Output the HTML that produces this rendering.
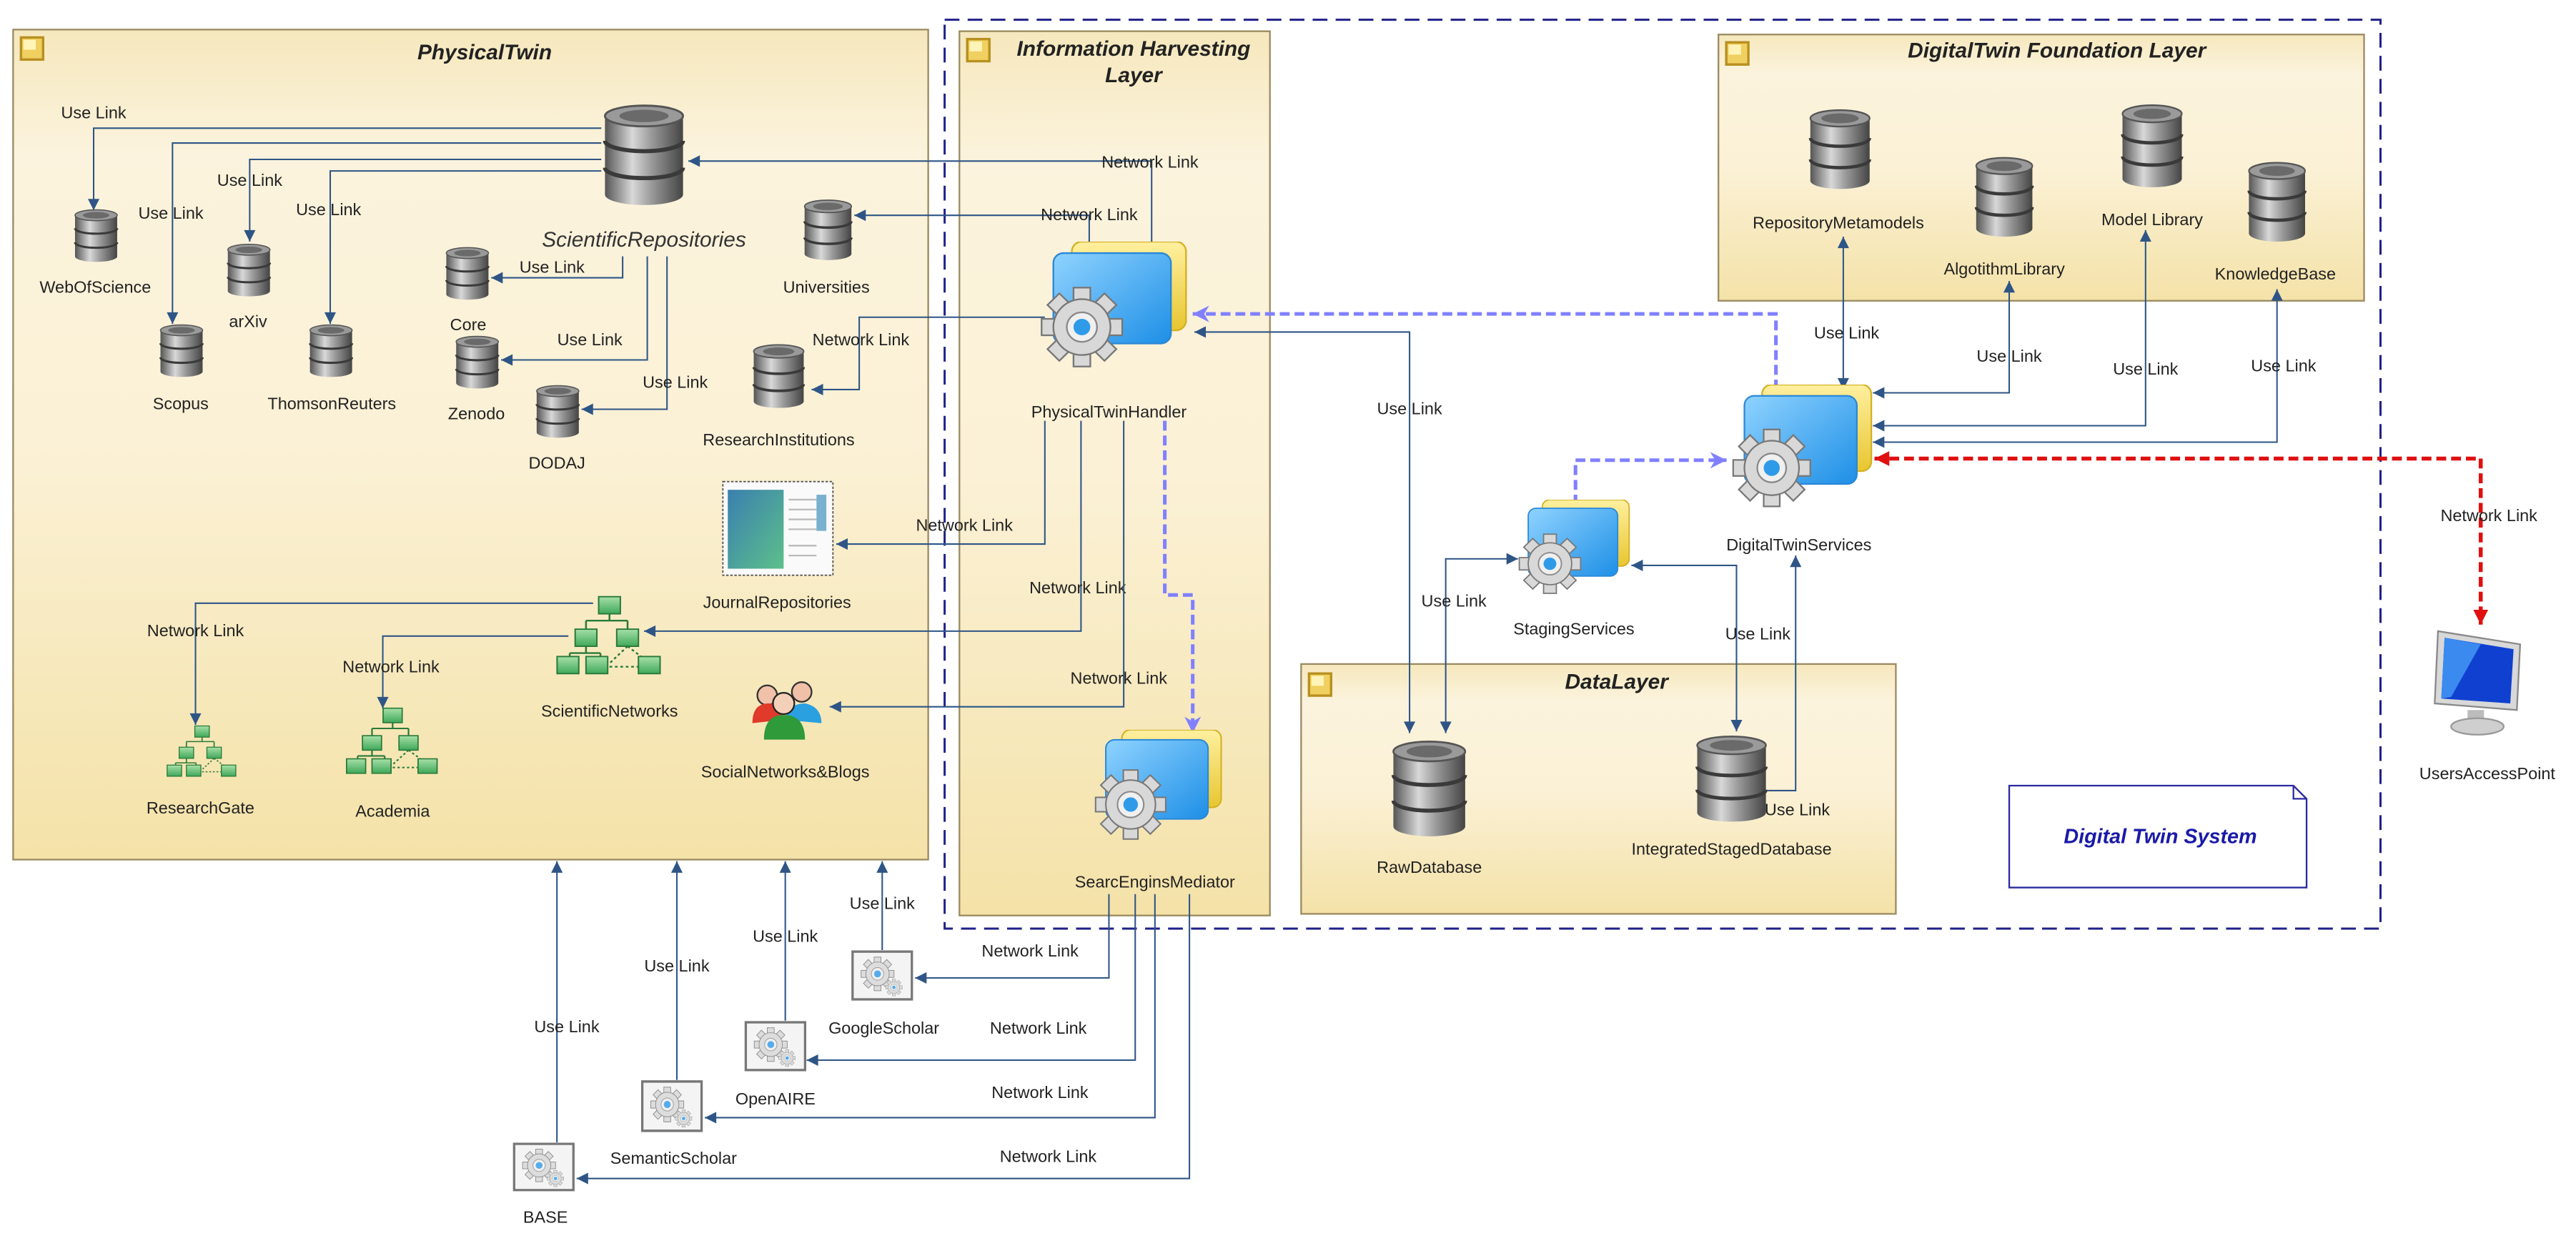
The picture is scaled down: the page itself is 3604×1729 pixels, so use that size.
<!DOCTYPE html>
<html><head><meta charset="utf-8"><style>
html,body{margin:0;padding:0;background:#fff;}
svg{display:block;}
text{font-family:"Liberation Sans",sans-serif;fill:#222;}
.l{font-size:10.2px;text-anchor:middle;}
.t{font-size:13px;font-weight:bold;font-style:italic;text-anchor:middle;}
.c{stroke:#2e5586;stroke-width:0.9;fill:none;}
</style></head><body>
<svg width="3604" height="1729" viewBox="0 0 1568 752" preserveAspectRatio="none" xmlns="http://www.w3.org/2000/svg">
<defs>
<linearGradient id="box" x1="0" y1="0" x2="0" y2="1">
<stop offset="0" stop-color="#f6e8bd"/><stop offset="0.15" stop-color="#fbf3dd"/><stop offset="0.5" stop-color="#fbf1d6"/><stop offset="1" stop-color="#f4e2a8"/></linearGradient>
<linearGradient id="dbg" x1="0" y1="0" x2="1" y2="0">
<stop offset="0" stop-color="#555"/><stop offset="0.35" stop-color="#d8d8d8"/><stop offset="0.6" stop-color="#999"/><stop offset="1" stop-color="#444"/></linearGradient>
<linearGradient id="blue" x1="0" y1="0" x2="1" y2="1">
<stop offset="0" stop-color="#8fd3ff"/><stop offset="1" stop-color="#1e8fe6"/></linearGradient>
<linearGradient id="yel" x1="0" y1="0" x2="0" y2="1">
<stop offset="0" stop-color="#fff0a0"/><stop offset="1" stop-color="#e8c630"/></linearGradient>
<linearGradient id="grn" x1="0" y1="0" x2="0" y2="1">
<stop offset="0" stop-color="#a8e0a8"/><stop offset="1" stop-color="#3fa85a"/></linearGradient>
<linearGradient id="jr" x1="0" y1="0" x2="1" y2="1">
<stop offset="0" stop-color="#3a7fb0"/><stop offset="1" stop-color="#5cc08a"/></linearGradient>
<marker id="a" viewBox="0 0 10 10" refX="10" refY="5" markerWidth="8" markerHeight="7" markerUnits="userSpaceOnUse" orient="auto-start-reverse"><path d="M0,0 L10,5 L0,10 z" fill="#2e5586"/></marker>
<marker id="ap" viewBox="0 0 10 10" refX="10" refY="5" markerWidth="11" markerHeight="10" markerUnits="userSpaceOnUse" orient="auto"><path d="M0,0 L10,5 L0,10 L3,5 z" fill="#8080ff"/></marker>
<marker id="ar" viewBox="0 0 10 10" refX="10" refY="5" markerWidth="10" markerHeight="9" markerUnits="userSpaceOnUse" orient="auto-start-reverse"><path d="M0,0 L10,5 L0,10 z" fill="#e01010"/></marker>
<symbol id="db" viewBox="0 0 40 50" preserveAspectRatio="none">
<rect x="1" y="6" width="38" height="38" fill="url(#dbg)"/>
<ellipse cx="20" cy="44" rx="19" ry="5" fill="url(#dbg)"/>
<path d="M1,18 A19,5 0 0 0 39,18 M1,31 A19,5 0 0 0 39,31" stroke="#3a3a3a" stroke-width="2" fill="none"/>
<ellipse cx="20" cy="6" rx="19" ry="5" fill="#9a9a9a" stroke="#555" stroke-width="1"/>
<ellipse cx="20" cy="6" rx="12" ry="3" fill="#6a6a6a"/>
</symbol>
<symbol id="gear" viewBox="-25 -25 50 50">
<g fill="#d8d8d8" stroke="#777" stroke-width="1">
<rect x="-5" y="-24" width="10" height="10" transform="rotate(0)"/>
<rect x="-5" y="-24" width="10" height="10" transform="rotate(45)"/>
<rect x="-5" y="-24" width="10" height="10" transform="rotate(90)"/>
<rect x="-5" y="-24" width="10" height="10" transform="rotate(135)"/>
<rect x="-5" y="-24" width="10" height="10" transform="rotate(180)"/>
<rect x="-5" y="-24" width="10" height="10" transform="rotate(225)"/>
<rect x="-5" y="-24" width="10" height="10" transform="rotate(270)"/>
<rect x="-5" y="-24" width="10" height="10" transform="rotate(315)"/>
<circle r="17"/></g>
<circle r="9" fill="#f0f0f0" stroke="#888"/><circle r="5" fill="#2f9be8"/>
</symbol>
<symbol id="svc" viewBox="0 0 90 80" preserveAspectRatio="none">
<rect x="19" y="0" width="68" height="54" rx="6" fill="url(#yel)" stroke="#d4b020"/>
<rect x="8" y="7" width="70" height="55" rx="6" fill="url(#blue)" stroke="#2a88d8"/>
<use href="#gear" x="0" y="27" width="50" height="50"/>
</symbol>
<symbol id="web" viewBox="0 0 40 32" preserveAspectRatio="none">
<rect x="1" y="1" width="38" height="30" fill="#f4f4f4" stroke="#777" stroke-width="1.5"/>
<g opacity="0.8"><use href="#gear" x="6" y="4" width="22" height="22"/><use href="#gear" x="22" y="18" width="11" height="11"/></g>
</symbol>
<symbol id="tree" viewBox="0 0 60 50" preserveAspectRatio="none">
<g stroke="#2a7a3a" stroke-width="1" fill="none"><path d="M30,10 V15 M17,15 H40 M17,15 V20 M40,15 V20 M17,30 V34 M8,34 H25 M8,34 V36 M25,34 V36"/><path d="M40,30 L30,40 M40,30 L50,38 M30,42 H47" stroke-dasharray="1.5,1.5"/></g>
<g fill="url(#grn)" stroke="#2a7a3a" stroke-width="0.8">
<rect x="24" y="1" width="12" height="10"/><rect x="11" y="20" width="12" height="10"/><rect x="34" y="20" width="12" height="10"/>
<rect x="1" y="36" width="12" height="10"/><rect x="17" y="36" width="12" height="10"/><rect x="46" y="36" width="12" height="10"/></g>
</symbol>
<symbol id="sq" viewBox="0 0 10 10"><rect x="0.5" y="0.5" width="9" height="9" fill="#f0d060" stroke="#b89020"/><rect x="1.5" y="1.5" width="5" height="4" fill="#fff4b8"/></symbol>
</defs>

<rect x="8" y="18" width="557" height="505" fill="url(#box)" stroke="#9a8a60" stroke-width="1"/>
<use href="#sq" x="12" y="22" width="15" height="15"/>
<text class="t" x="295" y="36">PhysicalTwin</text>

<rect x="584" y="19" width="189" height="538" fill="url(#box)" stroke="#9a8a60"/>
<use href="#sq" x="588" y="23" width="15" height="15"/>
<text class="t" x="690" y="34">Information Harvesting</text>
<text class="t" x="690" y="50">Layer</text>

<rect x="1046" y="21" width="393" height="162" fill="url(#box)" stroke="#9a8a60"/>
<use href="#sq" x="1050" y="25" width="15" height="15"/>
<text class="t" x="1252" y="35">DigitalTwin Foundation Layer</text>

<rect x="792" y="404" width="362" height="152" fill="url(#box)" stroke="#9a8a60"/>
<use href="#sq" x="796" y="409" width="15" height="15"/>
<text class="t" x="984" y="419">DataLayer</text>

<rect x="575" y="12" width="874" height="553" fill="none" stroke="#20208a" stroke-width="1.3" stroke-dasharray="9,5"/>

<path d="M1223,478 H1396 L1404,486 V540 H1223 Z M1396,478 V486 H1404" fill="#fff" stroke="#2a2aa0" stroke-width="1"/>
<text x="1315" y="513" style="font-size:12.5px;font-weight:bold;font-style:italic;fill:#1a1aa8;text-anchor:middle">Digital Twin System</text>

<path class="c" d="M366,78 H57 V128" marker-end="url(#a)"/>
<path class="c" d="M366,87 H105 V197" marker-end="url(#a)"/>
<path class="c" d="M366,97 H152 V147" marker-end="url(#a)"/>
<path class="c" d="M366,104 H201 V197" marker-end="url(#a)"/>
<text class="l" x="57" y="72">Use Link</text>
<text class="l" x="104" y="133">Use Link</text>
<text class="l" x="152" y="113">Use Link</text>
<text class="l" x="200" y="131">Use Link</text>
<path class="c" d="M379,156 V169 H299" marker-end="url(#a)"/>
<path class="c" d="M394,156 V219 H305" marker-end="url(#a)"/>
<path class="c" d="M406,156 V249 H354" marker-end="url(#a)"/>
<text class="l" x="336" y="166">Use Link</text>
<text class="l" x="359" y="210">Use Link</text>
<text class="l" x="411" y="236">Use Link</text>

<path class="c" d="M701,148 V98 H419" marker-end="url(#a)"/>
<text class="l" x="700" y="102">Network Link</text>
<path class="c" d="M663,148 V131 H520" marker-end="url(#a)"/>
<text class="l" x="663" y="134">Network Link</text>
<path class="c" d="M636,193 H523 V237 H494" marker-end="url(#a)"/>
<text class="l" x="524" y="210">Network Link</text>
<path class="c" d="M636,256 V331 H509" marker-end="url(#a)"/>
<text class="l" x="587" y="323">Network Link</text>
<path class="c" d="M658,256 V384 H392" marker-end="url(#a)"/>
<text class="l" x="656" y="361">Network Link</text>
<path class="c" d="M684,256 V430 H505" marker-end="url(#a)"/>
<text class="l" x="681" y="416">Network Link</text>
<path class="c" d="M361,367 H119 V441" marker-end="url(#a)"/>
<text class="l" x="119" y="387">Network Link</text>
<path class="c" d="M346,387 H233 V431" marker-end="url(#a)"/>
<text class="l" x="238" y="409">Network Link</text>

<use href="#db" x="367" y="63" width="50" height="63"/>
<text x="392" y="150" style="font-size:13px;font-style:italic;text-anchor:middle;fill:#333">ScientificRepositories</text>
<use href="#db" x="45" y="127" width="27" height="33"/><text class="l" x="58" y="178">WebOfScience</text>
<use href="#db" x="97" y="197" width="27" height="33"/><text class="l" x="110" y="249">Scopus</text>
<use href="#db" x="138" y="148" width="27" height="33"/><text class="l" x="151" y="199">arXiv</text>
<use href="#db" x="188" y="197" width="27" height="33"/><text class="l" x="202" y="249">ThomsonReuters</text>
<use href="#db" x="271" y="150" width="27" height="33"/><text class="l" x="285" y="201">Core</text>
<use href="#db" x="277" y="204" width="27" height="33"/><text class="l" x="290" y="255">Zenodo</text>
<use href="#db" x="326" y="234" width="27" height="33"/><text class="l" x="339" y="285">DODAJ</text>
<use href="#db" x="489" y="121" width="30" height="38"/><text class="l" x="503" y="178">Universities</text>
<use href="#db" x="458" y="209" width="32" height="40"/><text class="l" x="474" y="271">ResearchInstitutions</text>

<rect x="440" y="293" width="67" height="57" fill="#fafafa" stroke="#555" stroke-width="0.8" stroke-dasharray="1.5,1"/>
<rect x="443" y="298" width="34" height="48" fill="url(#jr)"/>
<g stroke="#bbb" stroke-width="1"><path d="M480,304 H497 M480,310 H497 M480,316 H497 M480,322 H497 M480,332 H497 M480,338 H497"/></g>
<rect x="497" y="301" width="6" height="22" fill="#7ab0d0"/>
<text class="l" x="473" y="370">JournalRepositories</text>

<use href="#tree" x="338" y="362" width="66" height="52"/><text class="l" x="371" y="436">ScientificNetworks</text>
<use href="#tree" x="101" y="441" width="44" height="34"/><text class="l" x="122" y="495">ResearchGate</text>
<use href="#tree" x="210" y="430" width="58" height="44"/><text class="l" x="239" y="497">Academia</text>

<g>
<circle cx="467" cy="423" r="6" fill="#f0c0a8" stroke="#333" stroke-width="1"/>
<path d="M458,440 Q458,428 468,428 Q476,428 476,438 Z" fill="#e03a2a"/>
<circle cx="488" cy="421" r="6" fill="#f0c0a8" stroke="#333"/>
<path d="M478,438 Q480,428 490,428 Q500,430 500,440 Z" fill="#2aa0e0"/>
<circle cx="477" cy="428" r="6.5" fill="#f5d0b8" stroke="#222"/>
<path d="M465,450 Q465,435 477,435 Q490,435 490,450 Z" fill="#2f9a3a"/>
</g>
<text class="l" x="478" y="473">SocialNetworks&amp;Blogs</text>

<path class="c" d="M858,446 V202 H727" marker-end="url(#a)" marker-start="url(#a)"/>
<text class="l" x="858" y="252">Use Link</text>
<path d="M1081,237 V191 H726" fill="none" stroke="#8080ff" stroke-width="2.2" stroke-dasharray="6,3" marker-end="url(#ap)"/>
<path d="M709,256 V362 H726 V446" fill="none" stroke="#8080ff" stroke-width="2.2" stroke-dasharray="6,3" marker-end="url(#ap)"/>
<path d="M959,307 V280 H1051" fill="none" stroke="#8080ff" stroke-width="2.2" stroke-dasharray="6,3" marker-end="url(#ap)"/>
<path class="c" d="M880,446 V340 H924" marker-start="url(#a)" marker-end="url(#a)"/>
<text class="l" x="885" y="369">Use Link</text>
<path class="c" d="M1057,445 V344 H993" marker-start="url(#a)" marker-end="url(#a)"/>
<text class="l" x="1070" y="389">Use Link</text>
<path class="c" d="M1076,481 H1093 V338" marker-end="url(#a)"/>
<text class="l" x="1094" y="496">Use Link</text>

<path class="c" d="M1122,144 V237" marker-start="url(#a)" marker-end="url(#a)"/>
<text class="l" x="1124" y="206">Use Link</text>
<path class="c" d="M1223,171 V239 H1140" marker-start="url(#a)" marker-end="url(#a)"/>
<text class="l" x="1223" y="220">Use Link</text>
<path class="c" d="M1306,140 V259 H1140" marker-start="url(#a)" marker-end="url(#a)"/>
<text class="l" x="1306" y="228">Use Link</text>
<path class="c" d="M1386,176 V269 H1140" marker-start="url(#a)" marker-end="url(#a)"/>
<text class="l" x="1390" y="226">Use Link</text>

<path d="M1141,279 H1510 V380" fill="none" stroke="#e01010" stroke-width="2.4" stroke-dasharray="6,3" marker-start="url(#ar)" marker-end="url(#ar)"/>
<text class="l" x="1515" y="317">Network Link</text>

<use href="#svc" x="633" y="147" width="92" height="80"/><text class="l" x="675" y="254">PhysicalTwinHandler</text>
<use href="#svc" x="666" y="444" width="80" height="70"/><text class="l" x="703" y="540">SearcEnginsMediator</text>
<use href="#svc" x="924" y="304" width="70" height="60"/><text class="l" x="958" y="386">StagingServices</text>
<use href="#svc" x="1054" y="234" width="88" height="78"/><text class="l" x="1095" y="335">DigitalTwinServices</text>

<use href="#db" x="1101" y="66" width="38" height="50"/><text class="l" x="1119" y="139">RepositoryMetamodels</text>
<use href="#db" x="1202" y="95" width="36" height="50"/><text class="l" x="1220" y="167">AlgotithmLibrary</text>
<use href="#db" x="1291" y="63" width="38" height="52"/><text class="l" x="1310" y="137">Model Library</text>
<use href="#db" x="1368" y="98" width="36" height="50"/><text class="l" x="1385" y="170">KnowledgeBase</text>

<use href="#db" x="847" y="450" width="46" height="60"/><text class="l" x="870" y="531">RawDatabase</text>
<use href="#db" x="1032" y="447" width="44" height="54"/><text class="l" x="1054" y="520">IntegratedStagedDatabase</text>

<g>
<path d="M1484,384 L1534,392 L1532,432 L1482,428 Z" fill="#d8d8d8" stroke="#888"/>
<path d="M1488,388 L1530,395 L1528,428 L1486,425 Z" fill="#1040d0"/>
<path d="M1488,388 L1510,392 L1492,424 L1486,425 Z" fill="#3a8af0"/>
<rect x="1502" y="432" width="10" height="6" fill="#bbb"/>
<ellipse cx="1508" cy="442" rx="16" ry="5" fill="#cfcfcf" stroke="#999"/>
</g>
<text class="l" x="1514" y="474">UsersAccessPoint</text>

<path class="c" d="M339,695 V524" marker-end="url(#a)"/>
<path class="c" d="M412,657 V524" marker-end="url(#a)"/>
<path class="c" d="M478,621 V524" marker-end="url(#a)"/>
<path class="c" d="M537,578 V524" marker-end="url(#a)"/>
<text class="l" x="345" y="628">Use Link</text>
<text class="l" x="412" y="591">Use Link</text>
<text class="l" x="478" y="573">Use Link</text>
<text class="l" x="537" y="553">Use Link</text>
<path class="c" d="M675,544 V595 H557" marker-end="url(#a)"/>
<path class="c" d="M691,544 V645 H491" marker-end="url(#a)"/>
<path class="c" d="M703,544 V680 H429" marker-end="url(#a)"/>
<path class="c" d="M724,544 V717 H351" marker-end="url(#a)"/>
<text class="l" x="627" y="582">Network Link</text>
<text class="l" x="632" y="629">Network Link</text>
<text class="l" x="633" y="668">Network Link</text>
<text class="l" x="638" y="707">Network Link</text>
<use href="#web" x="518" y="578" width="38" height="31"/><text class="l" x="538" y="629">GoogleScholar</text>
<use href="#web" x="453" y="621" width="38" height="31"/><text class="l" x="472" y="672">OpenAIRE</text>
<use href="#web" x="390" y="657" width="38" height="32"/><text class="l" x="410" y="708">SemanticScholar</text>
<use href="#web" x="312" y="695" width="38" height="30"/><text class="l" x="332" y="744">BASE</text>
</svg>
</body></html>
